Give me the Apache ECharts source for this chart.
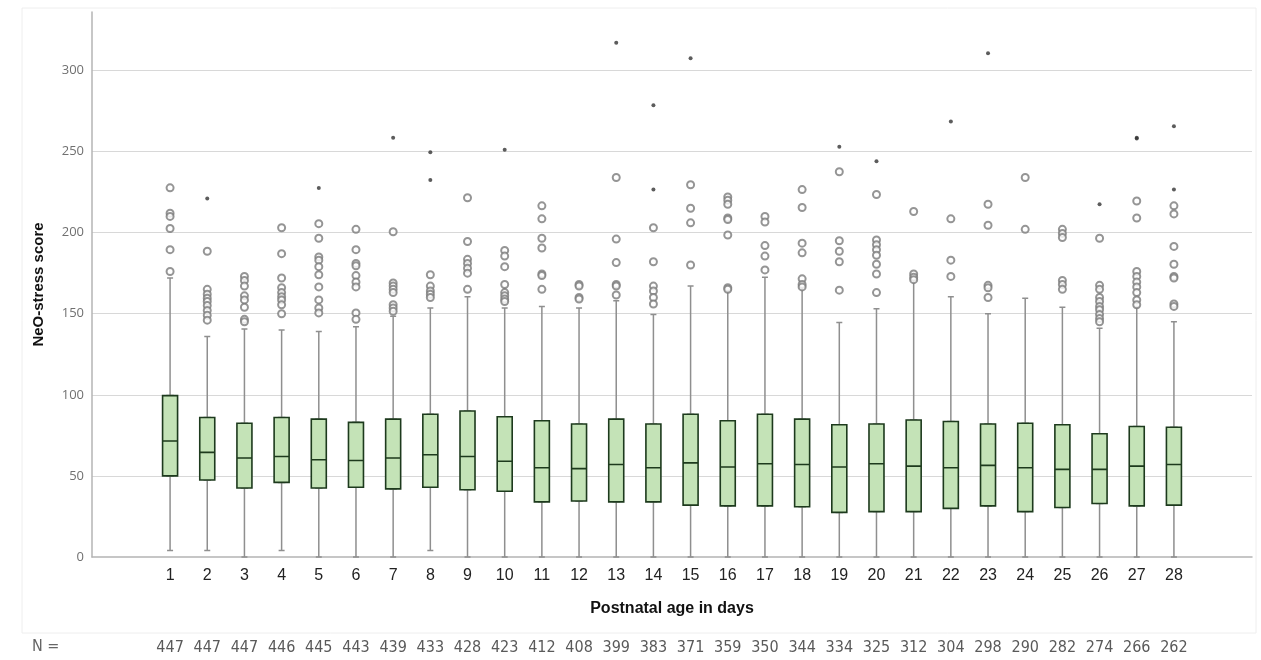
<!DOCTYPE html>
<html>
<head>
<meta charset="utf-8">
<script src="https://cdn.jsdelivr.net/npm/echarts@6/dist/echarts.min.js"></script>
<style>
  html, body { margin: 0; padding: 0; background: #fff; }
  #chart { width: 1261px; height: 660px; }
</style>
</head>
<body>
<div id="chart"></div>
<script>
// 天数 1..28
var days = [1,2,3,4,5,6,7,8,9,10,11,12,13,14,15,16,17,18,19,20,21,22,23,24,25,26,27,28];
var nCounts = [447,447,447,446,445,443,439,433,428,423,412,408,399,383,371,359,350,344,334,325,312,304,298,290,282,274,266,262];

// 箱线图统计量
var whiskerLow  = [4,4,0,4,0,0,0,4,0,0,0,0,0,0,0,0,0,0,0,0,0,0,0,0,0,0,0,0];
var q1          = [50,47.5,42.5,46,42.5,43,42,43,41.5,40.5,34,34.5,34,34,32,31.5,31.5,31,27.5,28,28,30,31.5,28,30.5,33,31.5,32];
var median      = [71.5,64.5,61,62,60,59.5,61,63,62,59,55,54.5,57,55,58,55.5,57.5,57,55.5,57.5,56,55,56.5,55,54,54,56,57];
var q3          = [99.5,86,82.5,86,85,83,85,88,90,86.5,84,82,85,82,88,84,88,85,81.5,82,84.5,83.5,82,82.5,81.5,76,80.5,80];
var whiskerHigh = [172,136,140.5,140,139,142,148.5,153.5,160.5,153.5,154.5,153.5,158,149.5,167,165,172.5,166.5,144.5,153,171,160.5,150,159.5,154,141,154.5,145];

// 离群值 (圆圈) 与极端值 (星号)
var outliers = [
  [227.6,212,210,202.5,189.5,176],
  [188.5,165,162,159.5,157.5,155,152,149,146],
  [173,170.5,167,161,158.5,154,146.5,145],
  [203,187,172,166,163,160.5,158.5,155.5,150],
  [205.5,196.5,185,183,179,174,166.5,158.5,153.5,150.5],
  [202,189.5,181,179.5,173.5,169.5,166.5,150.5,146.5],
  [200.5,169,167,165,163,155.5,153.5,151.5],
  [174,167,164,162,160],
  [221.5,194.5,183.5,181,178,175,165],
  [189,185.5,179,168,163,161,159,157.5],
  [216.5,208.5,196.5,190.5,174.5,173.5,165],
  [168,167,160,159],
  [234,196,181.5,168,167,161.5],
  [203,182,167,164,160,156],
  [229.5,215,206,180],
  [222,220,217.5,209,208,198.5,166,165],
  [210,206.5,192,185.5,177],
  [226.5,215.5,193.5,187.5,171.5,168,166.5],
  [237.5,195,188.5,182,164.5],
  [223.5,195.5,192.5,189.5,186,180.5,174.5,163],
  [213,174.5,172.5,171],
  [208.5,183,173],
  [217.5,204.5,167.5,166,160],
  [234,202],
  [202,199.5,197,170.5,168,165],
  [196.5,167.5,165,160,157.5,154.5,152.5,149.5,147,145],
  [219.5,209,176,173,169.5,166.5,163,158.5,155.5],
  [216.5,211.5,191.5,180.5,173,172,156,154.5]
];
var extremes = [
  [],[221],[],[],[227.5],[],[258.5],[249.5,232.5],[],[251],[],[],[317],[278.5,226.5],
  [307.5],[],[],[],[253],[244],[],[268.5],[310.5],[],[],[217.5],[258.5,258],[265.5,226.5]
];

var yTicks = [0,50,100,150,200,250,300];

var whiskerData = [], boxData = [], outlierPts = [], extremePts = [];
days.forEach(function (d, i) {
  whiskerData.push([d, whiskerLow[i], q1[i], median[i], q3[i], whiskerHigh[i]]);
  boxData.push([d, q1[i], q1[i], median[i], q3[i], q3[i]]);
  outliers[i].forEach(function (v) { outlierPts.push([d, v]); });
  extremes[i].forEach(function (v) { extremePts.push([d, v]); });
});

var chart = echarts.init(document.getElementById('chart'));

var xBase = { type: 'value', position: 'bottom', min: -1.1, max: 30.1, splitLine: { show: false }, axisTick: { show: false } };

var option = {
  animation: false,
  grid: { left: 92, right: 9, top: 12, bottom: 103, outerBoundsMode: 'none', containLabel: false },
  xAxis: [
    Object.assign({}, xBase, {
      name: 'Postnatal age in days',
      nameLocation: 'middle',
      nameGap: 44,
      nameTextStyle: { fontSize: 16, fontWeight: 'bold', color: '#111', fontFamily: 'Liberation Sans' },
      axisLine: { show: true, onZero: false, lineStyle: { color: '#b4b4b4', width: 1.5 } },
      axisLabel: { customValues: days, fontSize: 16, color: '#222', margin: 11, fontFamily: 'Liberation Sans' }
    }),
    Object.assign({}, xBase, { show: false }),
    Object.assign({}, xBase, {
      offset: 76,
      axisLine: { show: false, onZero: false },
      axisLabel: {
        customValues: days,
        margin: 7,
        fontSize: 16,
        color: '#5a5a5a',
        fontFamily: 'DejaVu Sans Condensed',
        formatter: function (v) { return String(nCounts[days.indexOf(v)]); }
      }
    })
  ],
  yAxis: {
    type: 'value',
    min: 0,
    max: 336,
    interval: 50,
    name: 'NeO-stress score',
    nameLocation: 'middle',
    nameGap: 46,
    nameTextStyle: { fontSize: 15, fontWeight: 'bold', color: '#111', fontFamily: 'Liberation Sans' },
    axisLine: { show: true, onZero: false, lineStyle: { color: '#b4b4b4', width: 1.5 } },
    axisTick: { show: false },
    splitLine: { show: true, showMinLine: false, showMaxLine: false, lineStyle: { color: '#d8d8d8', width: 1.2 } },
    axisLabel: {
      color: '#707070',
      fontSize: 13,
      margin: 8,
      showMaxLabel: false,
      fontFamily: 'Open Sans',
      formatter: function (v) { return yTicks.indexOf(v) >= 0 ? String(v) : ''; }
    }
  },
  graphic: [
    { type: 'rect', shape: { x: 22, y: 8, width: 1234, height: 625 }, style: { fill: 'none', stroke: '#eeeeee', lineWidth: 1 }, silent: true, z: -1 },
    { type: 'text', left: 32, top: 639, style: { text: 'N =', fontSize: 16, fill: '#666', fontFamily: 'DejaVu Sans Condensed' } }
  ],
  series: [
    {
      type: 'boxplot',
      xAxisIndex: 1,
      boxWidth: [6, 6],
      data: whiskerData,
      itemStyle: { color: 'rgba(0,0,0,0)', borderColor: '#8f8f8f', borderWidth: 1.5 },
      emphasis: { disabled: true },
      silent: true
    },
    {
      type: 'boxplot',
      xAxisIndex: 2,
      boxWidth: [15, 15],
      data: boxData,
      itemStyle: { color: '#c4e3b7', borderColor: '#1d3a1d', borderWidth: 1.6 },
      emphasis: { disabled: true },
      silent: true
    },
    {
      type: 'scatter',
      xAxisIndex: 0,
      data: outlierPts,
      symbol: 'emptyCircle',
      symbolSize: 7,
      itemStyle: { color: '#7a7a7a', borderWidth: 1.1 },
      silent: true
    },
    {
      type: 'scatter',
      xAxisIndex: 0,
      data: extremePts,
      symbol: 'circle',
      symbolSize: 4,
      itemStyle: { color: '#333' },
      silent: true
    }
  ]
};

chart.setOption(option);
</script>
</body>
</html>
